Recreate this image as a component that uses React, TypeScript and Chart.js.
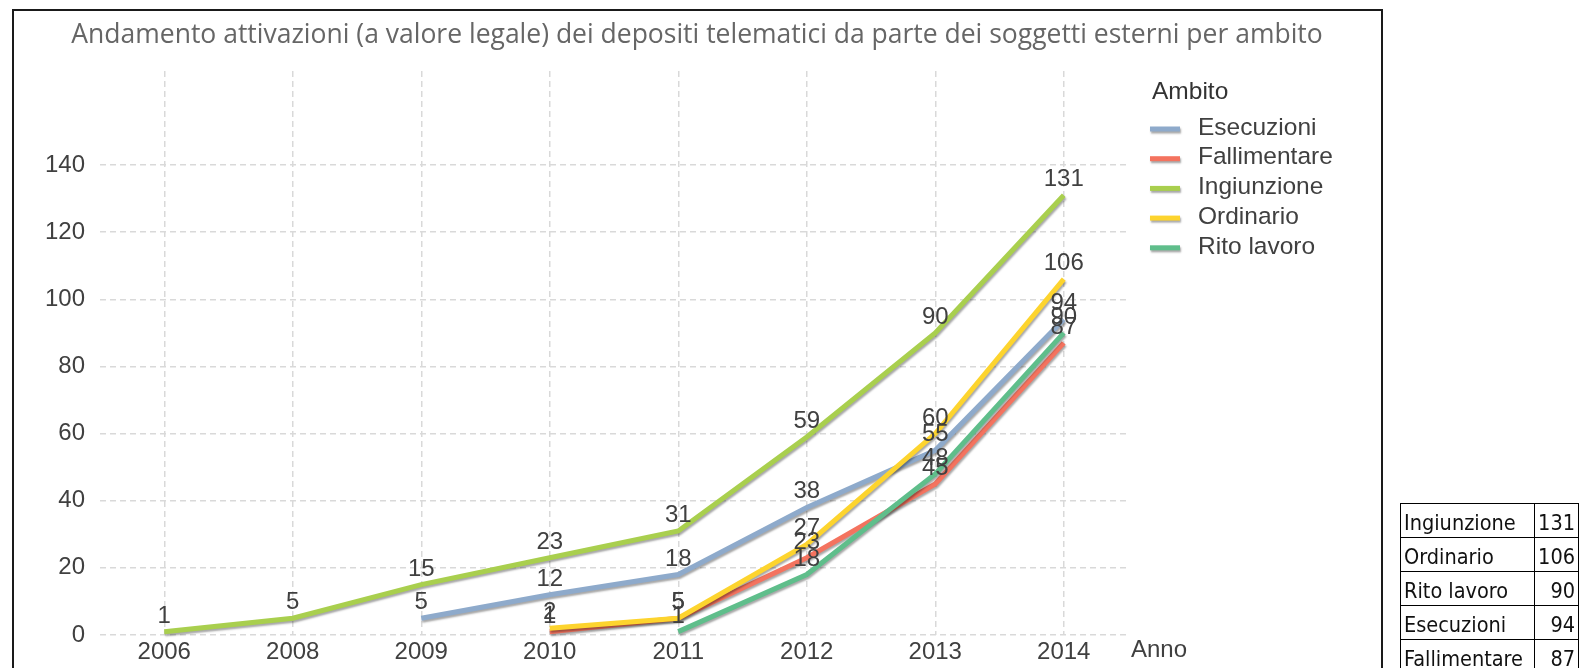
import React, { useEffect, useRef } from 'react';
import { Chart, registerables } from 'chart.js';

Chart.register(...registerables);

// ---- data ----
const years = ['2006', '2008', '2009', '2010', '2011', '2012', '2013', '2014'];
const esecuzioni = [null, null, 5, 12, 18, 38, 55, 94];
const fallimentare = [null, null, null, 1, 5, 23, 45, 87];
const ingiunzione = [1, 5, 15, 23, 31, 59, 90, 131];
const ordinario = [null, null, null, 2, 5, 27, 60, 106];
const ritoLavoro = [null, null, null, null, 1, 18, 48, 90];

const seriesNames = ['Esecuzioni', 'Fallimentare', 'Ingiunzione', 'Ordinario', 'Rito lavoro'];
const seriesData = [esecuzioni, fallimentare, ingiunzione, ordinario, ritoLavoro];
const seriesColors = ['#8eaacb', '#f4735f', '#a9cf4e', '#fdd42e', '#5fbe8b'];

const yMaxTick = 140;
const yStep = 20;

const titleText = 'Andamento attivazioni (a valore legale) dei depositi telematici da parte dei soggetti esterni per ambito';
const legendTitle = 'Ambito';
const xAxisTitle = 'Anno';

const tableNames = ['Ingiunzione', 'Ordinario', 'Rito lavoro', 'Esecuzioni', 'Fallimentare'];
const tableValues = [131, 106, 90, 94, 87];

const FONT = '"Liberation Sans", Arial, sans-serif';

export default function App() {
  const canvasRef = useRef<HTMLCanvasElement | null>(null);

  useEffect(() => {
    const canvas = canvasRef.current;
    if (!canvas) return;

    const shadowPlugin = {
      id: 'lineShadow',
      beforeDatasetDraw(chart: any) {
        const c = chart.ctx;
        c.save();
        c.shadowColor = 'rgba(0,0,0,0.35)';
        c.shadowBlur = 2;
        c.shadowOffsetX = 1;
        c.shadowOffsetY = 2;
      },
      afterDatasetDraw(chart: any) {
        chart.ctx.restore();
      },
    };

    const labelPlugin = {
      id: 'valueLabels',
      afterDatasetsDraw(chart: any) {
        const ctx = chart.ctx;
        ctx.save();
        ctx.font = `24px ${FONT}`;
        ctx.fillStyle = '#404040';
        ctx.textAlign = 'center';
        ctx.textBaseline = 'alphabetic';
        chart.data.datasets.forEach((ds: any, i: number) => {
          const meta = chart.getDatasetMeta(i);
          meta.data.forEach((pt: any, j: number) => {
            const v = ds.data[j];
            if (v === null || v === undefined) return;
            ctx.fillText(String(v), pt.x, pt.y - 9);
          });
        });
        ctx.restore();
      },
    };

    const decorPlugin = {
      id: 'decor',
      afterDraw(chart: any) {
        const ctx = chart.ctx;
        ctx.save();
        // title
        ctx.font = `26.5px "Open Sans", sans-serif`;
        ctx.fillStyle = '#666666';
        ctx.textAlign = 'center';
        ctx.textBaseline = 'middle';
        ctx.fillText(titleText, 697, 35);

        // x axis title
        ctx.font = `24px ${FONT}`;
        ctx.fillStyle = '#404040';
        ctx.textAlign = 'left';
        ctx.fillText(xAxisTitle, 1131, 650);

        // legend
        ctx.font = `24.5px ${FONT}`;
        ctx.fillStyle = '#333333';
        ctx.fillText(legendTitle, 1152, 92);
        seriesNames.forEach((name, i) => {
          const y = 128 + i * 29.7;
          ctx.save();
          ctx.shadowColor = 'rgba(0,0,0,0.35)';
          ctx.shadowBlur = 2;
          ctx.shadowOffsetX = 1;
          ctx.shadowOffsetY = 2;
          ctx.strokeStyle = seriesColors[i];
          ctx.lineWidth = 5;
          ctx.beginPath();
          ctx.moveTo(1150, y + 1);
          ctx.lineTo(1180, y + 1);
          ctx.stroke();
          ctx.restore();
          ctx.fillStyle = '#404040';
          ctx.fillText(name, 1198, y);
        });
        ctx.restore();
      },
    };

    const chart = new Chart(canvas, {
      type: 'line',
      data: {
        labels: years,
        datasets: seriesNames.map((name, i) => ({
          label: name,
          data: seriesData[i],
          borderColor: seriesColors[i],
          backgroundColor: seriesColors[i],
          borderWidth: 5,
          pointRadius: 0,
          pointHoverRadius: 0,
          tension: 0,
          spanGaps: false,
          clip: false,
          order: seriesNames.length - i,
        })),
      },
      options: {
        responsive: false,
        animation: false,
        events: [],
        layout: { padding: { left: 0, top: 71, right: 1579 - 1128, bottom: 0 } },
        plugins: {
          legend: { display: false },
          tooltip: { enabled: false },
          title: { display: false },
        },
        scales: {
          x: {
            type: 'category',
            offset: true,
            grid: { offset: false, color: '#d9d9d9', lineWidth: 1.5, drawTicks: false },
            border: { display: false, dash: [6, 4] },
            ticks: {
              padding: 3,
              color: '#404040',
              font: { family: FONT, size: 24 },
              maxRotation: 0,
              autoSkip: false,
            },
            afterFit: (s: any) => {
              s.height = 33;
            },
          },
          y: {
            min: 0,
            max: 168,
            grid: { color: '#d9d9d9', lineWidth: 1.5, drawTicks: false },
            border: { display: false, dash: [6, 4] },
            ticks: {
              stepSize: yStep,
              padding: 15,
              color: '#404040',
              font: { family: FONT, size: 24 },
            },
            afterBuildTicks: (s: any) => {
              s.ticks = s.ticks.filter((t: any) => t.value <= yMaxTick);
            },
            afterFit: (s: any) => {
              s.width = 100;
            },
          },
        },
      },
      plugins: [shadowPlugin, labelPlugin, decorPlugin],
    } as any);

    return () => chart.destroy();
  }, []);

  const cellBase: React.CSSProperties = {
    border: '1px solid #000',
    height: 34,
    padding: '4px 3px 0 3px',
    boxSizing: 'border-box',
    whiteSpace: 'nowrap',
    lineHeight: '28px',
  };

  return (
    <div style={{ position: 'fixed', left: 0, top: 0, width: 1579, height: 668, overflow: 'hidden', background: '#fff' }}>
      <div
        style={{
          position: 'absolute',
          left: 12,
          top: 9,
          width: 1371,
          height: 720,
          border: '2px solid #1a1a1a',
          boxSizing: 'border-box',
          background: '#fff',
        }}
      />
      <canvas
        ref={canvasRef}
        width={1579}
        height={668}
        style={{ position: 'absolute', left: 0, top: 0, width: 1579, height: 668 }}
      />
      <table
        style={{
          position: 'absolute',
          left: 1400,
          top: 503,
          borderCollapse: 'collapse',
          fontFamily: '"DejaVu Sans Condensed", "DejaVu Sans", sans-serif',
          fontStretch: 'condensed',
          fontSize: 21.5,
          color: '#111',
        }}
      >
        <tbody>
          {tableNames.map((n, i) => (
            <tr key={n}>
              <td style={{ ...cellBase, width: 136, textAlign: 'left' }}>{n}</td>
              <td style={{ ...cellBase, width: 43, textAlign: 'right' }}>{tableValues[i]}</td>
            </tr>
          ))}
        </tbody>
      </table>
    </div>
  );
}
